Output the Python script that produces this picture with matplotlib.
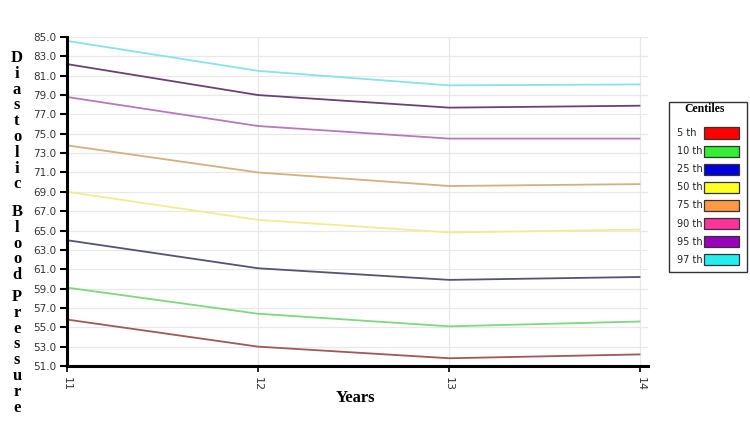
import matplotlib
matplotlib.use("Agg")
import matplotlib.pyplot as plt
from matplotlib.patches import Rectangle

# ages on the x axis
years = [11, 12, 13, 14]

# diastolic centile curves
p5 = [55.8, 53.0, 51.8, 52.2]
p10 = [59.1, 56.4, 55.1, 55.6]
p25 = [64.0, 61.1, 59.9, 60.2]
p50 = [69.0, 66.1, 64.8, 65.1]
p75 = [73.8, 71.0, 69.6, 69.8]
p90 = [78.8, 75.8, 74.5, 74.5]
p95 = [82.2, 79.0, 77.7, 77.9]
p97 = [84.6, 81.5, 80.0, 80.1]

centile_labels = ["5 th", "10 th", "25 th", "50 th", "75 th", "90 th", "95 th", "97 th"]
yticks = [51 + 2 * i for i in range(18)]

series = [p5, p10, p25, p50, p75, p90, p95, p97]
line_colors = ["#a05858", "#7fd87f", "#545470", "#eeee90", "#d4b07c", "#b878bc", "#6a4272", "#88e2ea"]
legend_colors = ["#ff0000", "#33ee33", "#0000dd", "#ffff22", "#ff9944", "#ff3399", "#9900bb", "#22eeee"]

W, H = 750, 438
fig = plt.figure(figsize=(W / 100, H / 100), dpi=100)
ax = fig.add_axes([67 / W, 1 - 366 / H, 581 / W, 329 / H])

for vals, c in zip(series, line_colors):
    ax.plot(years, vals, color=c, lw=1.3, solid_capstyle="butt")

ax.set_xlim(11, 14.04)
ax.set_ylim(51, 85)
ax.set_yticks(yticks)
ax.set_yticklabels(["%.1f" % v for v in yticks])
ax.set_xticks(years)
ax.set_xticklabels([str(y) for y in years], rotation=-90)
ax.grid(True, color="#e8e8e8", lw=0.9)
ax.set_axisbelow(True)

for s in ["top", "right"]:
    ax.spines[s].set_visible(False)
for s in ["left", "bottom"]:
    ax.spines[s].set_linewidth(2.2)
    ax.spines[s].set_color("black")
ax.tick_params(axis="y", direction="out", length=5, width=1.5, labelsize=7.5,
               labelcolor="#333333", pad=3)
ax.tick_params(axis="x", direction="out", length=4, width=1.2, labelsize=8,
               labelcolor="#333333", pad=4)

serif = ["Liberation Serif", "DejaVu Serif"]

# vertical stacked y label
label_pos = {
    "Diastolic": 58,
    "Blood": 212,
    "Pressure": 297,
}
for word, y0 in label_pos.items():
    for i, ch in enumerate(word):
        fig.text(17 / W, 1 - (y0 + i * 15.8) / H, ch, family=serif, weight="bold",
                 fontsize=12, ha="center", va="center")

fig.text(355 / W, 1 - 398 / H, "Years", family=serif, weight="bold",
         fontsize=12, ha="center", va="center")

# legend box drawn by hand
fig.patches.append(Rectangle((669 / W, 1 - 272 / H), 78 / W, 170 / H,
                             transform=fig.transFigure, fill=False,
                             edgecolor="#333333", lw=1.0))
fig.text(705 / W, 1 - 109 / H, "Centiles", family=serif, weight="bold",
         fontsize=8.5, ha="center", va="center")
for i, (lab, c) in enumerate(zip(centile_labels, legend_colors)):
    yc = 133 + i * 18.1
    fig.text(677 / W, 1 - yc / H, lab, fontsize=7, ha="left", va="center",
             color="#222222")
    fig.patches.append(Rectangle((704 / W, 1 - (yc + 5.5) / H), 35 / W, 11 / H,
                                 transform=fig.transFigure, facecolor=c,
                                 edgecolor="#333333", lw=0.9))

fig.savefig("out.png", dpi=100)
